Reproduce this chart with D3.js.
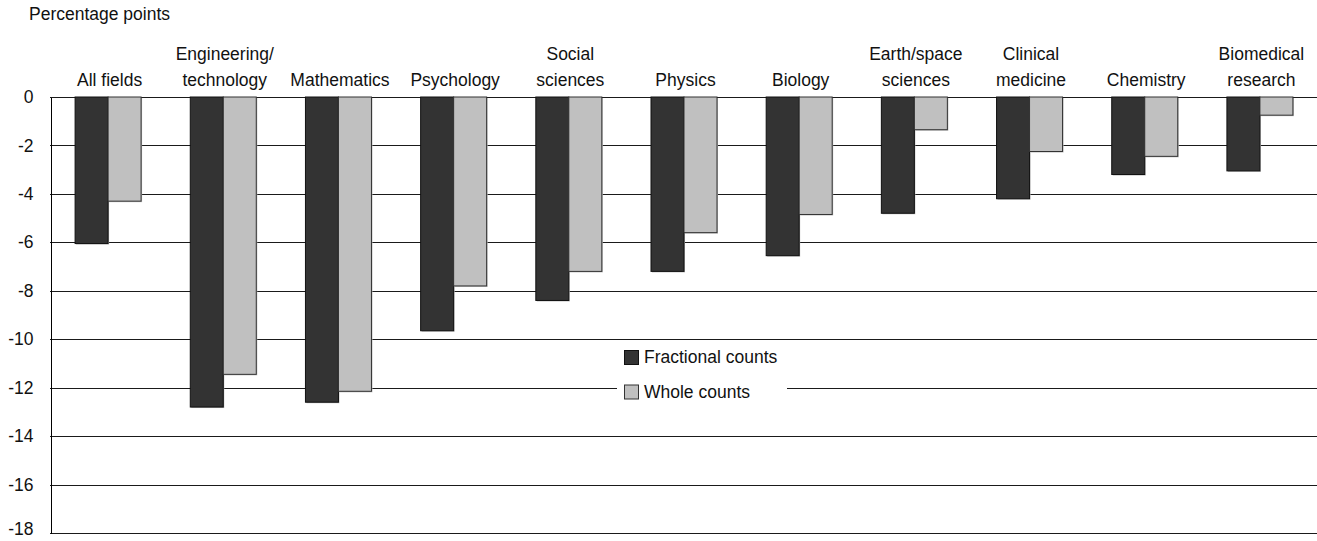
<!DOCTYPE html>
<html>
<head>
<meta charset="utf-8">
<script src="https://cdn.jsdelivr.net/npm/d3@7"></script>
<style>
  html, body { margin: 0; padding: 0; background: #fff; }
  svg { display: block; font-family: "Liberation Sans", Arial, sans-serif; }
</style>
</head>
<body>
<svg id="chart" width="1317" height="541"></svg>
<script>
const categories = ["All fields", "Engineering/\ntechnology", "Mathematics", "Psychology", "Social\nsciences",
  "Physics", "Biology", "Earth/space\nsciences", "Clinical\nmedicine", "Chemistry", "Biomedical\nresearch"];
const fractionalCounts = [-6.05, -12.8, -12.6, -9.65, -8.4, -7.2, -6.55, -4.8, -4.2, -3.2, -3.05];
const wholeCounts = [-4.3, -11.45, -12.15, -7.8, -7.2, -5.6, -4.85, -1.35, -2.25, -2.45, -0.75];
const seriesNames = ["Fractional counts", "Whole counts"];
const seriesColors = ["#333333", "#c0c0c0"];
const seriesStrokes = ["#111111", "#333333"];
const yTicks = [0, -2, -4, -6, -8, -10, -12, -14, -16, -18];
const yTitle = "Percentage points";

(function () {
const svg = d3.select("#chart");
const mLeft = 50, mRight = 1317, mTop = 97, mBottom = 533;
const fontSize = 17.5;

const y = d3.scaleLinear().domain([0, -18]).range([mTop, mBottom]);
const x = d3.scaleBand().domain(categories).range([mLeft, mRight]).paddingInner(0.427).paddingOuter(0.2135);
const xs = d3.scaleBand().domain(seriesNames).range([0, x.bandwidth()]);

// gridlines
svg.append("g").selectAll("line").data(yTicks).join("line")
  .attr("x1", mLeft).attr("x2", mRight)
  .attr("y1", d => Math.round(y(d)) + 0.5).attr("y2", d => Math.round(y(d)) + 0.5)
  .attr("stroke", "#1a1a1a").attr("stroke-width", 1).attr("shape-rendering", "crispEdges");

// y axis via d3.axisLeft
const yAxis = d3.axisLeft(y).tickValues(yTicks).tickSize(0).tickPadding(17);
const ga = svg.append("g").attr("transform", `translate(${mLeft + 0.5},0)`).call(yAxis);
ga.select(".domain").attr("stroke", "#000").attr("shape-rendering", "crispEdges");
ga.selectAll("text").attr("font-size", fontSize).attr("fill", "#111")
  .attr("font-family", "Liberation Sans, Arial, sans-serif")
  .attr("dy", d => d === -18 ? "0.1em" : "0.32em")
  .text(d => d === 0 ? "0" : "-" + Math.abs(d));

// y title
svg.append("text").attr("x", 29).attr("y", 20).attr("font-size", fontSize).attr("fill", "#111").text(yTitle);

// bars
const rows = categories.map((c, i) => ({ cat: c, vals: [fractionalCounts[i], wholeCounts[i]] }));
const groups = svg.append("g").selectAll("g").data(rows).join("g")
  .attr("transform", d => `translate(${x(d.cat)},0)`);
groups.selectAll("rect.shadow").data(d => d.vals.map((v, j) => ({ v, j }))).join("rect")
  .attr("class", "shadow")
  .attr("x", d => xs(seriesNames[d.j]) + 1.5)
  .attr("y", y(0) + 1)
  .attr("width", xs.bandwidth())
  .attr("height", d => y(d.v) - y(0))
  .attr("fill", "#bbbbbb");
groups.selectAll("rect.bar").data(d => d.vals.map((v, j) => ({ v, j }))).join("rect")
  .attr("class", "bar")
  .attr("x", d => xs(seriesNames[d.j]) + 0.5)
  .attr("y", y(0))
  .attr("width", xs.bandwidth())
  .attr("height", d => y(d.v) - y(0))
  .attr("fill", d => seriesColors[d.j])
  .attr("stroke", d => seriesStrokes[d.j])
  .attr("stroke-width", 1);

// category labels
const labels = svg.append("g").selectAll("text").data(categories).join("text")
  .attr("text-anchor", "middle")
  .attr("font-size", fontSize).attr("fill", "#111");
labels.each(function(d) {
  const lines = d.split("\n");
  const t = d3.select(this);
  lines.forEach((ln, k) => {
    t.append("tspan").attr("x", x(d) + x.bandwidth() / 2 + 2)
      .attr("y", 86 - (lines.length - 1 - k) * 26.5).text(ln);
  });
});

// legend
const lg = svg.append("g");
lg.append("rect").attr("x", 617).attr("y", 342).attr("width", 170).attr("height", 62).attr("fill", "#fff");
seriesNames.forEach((s, i) => {
  lg.append("rect").attr("x", 624.5).attr("y", 350.5 + i * 34.5).attr("width", 14).attr("height", 14)
    .attr("fill", seriesColors[i]).attr("stroke", seriesStrokes[i]);
  lg.append("text").attr("x", 644).attr("y", 363 + i * 35).attr("font-size", fontSize).attr("fill", "#111").text(s);
});
})();
</script>
</body>
</html>
